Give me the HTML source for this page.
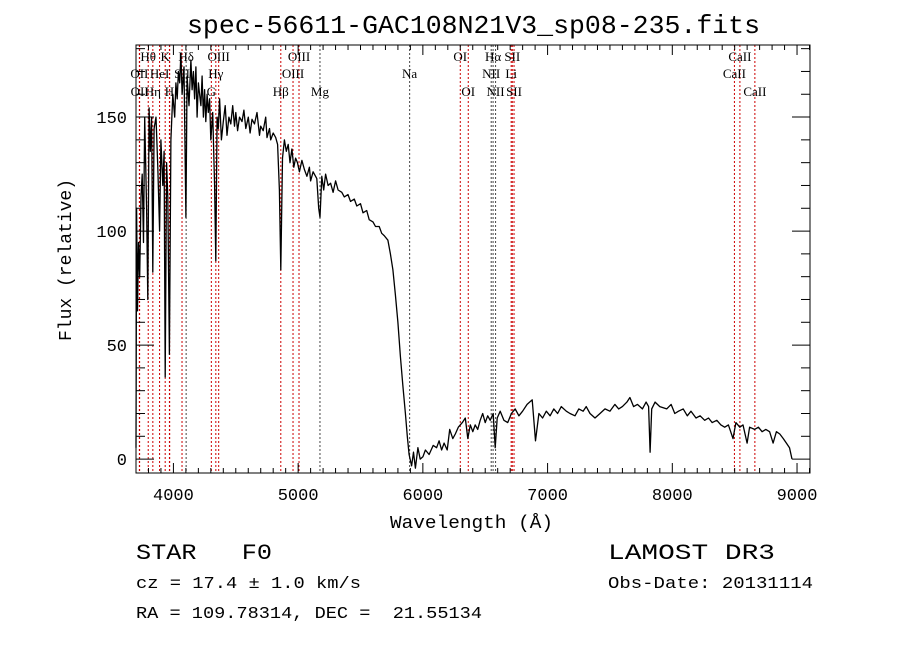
<!DOCTYPE html>
<html><head><meta charset="utf-8"><style>
body{margin:0;background:#fff;}
svg{display:block;font-family:"Liberation Mono",monospace;}
.lab{font-family:"Liberation Serif",serif;font-size:13px;}
</style></head><body>
<svg id="chart" width="900" height="649" viewBox="0 0 900 649" xmlns="http://www.w3.org/2000/svg">
<rect width="900" height="649" fill="#fff"/>
<text x="187" y="33" font-size="26" textLength="573" lengthAdjust="spacingAndGlyphs">spec-56611-GAC108N21V3_sp08-235.fits</text>
<g id="lines"></g>
<g id="spec"></g>
<g id="axes"></g>
<text x="390" y="528" font-size="18" textLength="163" lengthAdjust="spacingAndGlyphs">Wavelength (Å)</text>
<text transform="translate(71,260) rotate(-90)" font-size="18" text-anchor="middle">Flux (relative)</text>
<text x="136" y="559" font-size="22" textLength="136" lengthAdjust="spacingAndGlyphs" xml:space="preserve">STAR   F0</text>
<text x="136" y="588" font-size="17" textLength="225" lengthAdjust="spacingAndGlyphs">cz = 17.4 ± 1.0 km/s</text>
<text x="136" y="618" font-size="17" textLength="346" lengthAdjust="spacingAndGlyphs" xml:space="preserve">RA = 109.78314, DEC =  21.55134</text>
<text x="608" y="559" font-size="22" textLength="167" lengthAdjust="spacingAndGlyphs">LAMOST DR3</text>
<text x="608" y="588" font-size="17" textLength="205" lengthAdjust="spacingAndGlyphs">Obs-Date: 20131114</text>
</svg>
<script>
const wl=[3700,3705,3712,3720,3730,3740,3750,3760,3770,3785,3795,3805,3815,3825,3835,3845,3860,3875,3889,3900,3915,3925,3934,3945,3955,3968,3980,3995,4010,4020,4030,4040,4050,4060,4070,4085,4100,4110,4125,4140,4150,4160,4170,4180,4190,4200,4210,4220,4230,4240,4250,4260,4270,4280,4290,4300,4315,4330,4340,4350,4360,4370,4385,4400,4415,4430,4445,4460,4475,4490,4500,4515,4530,4550,4565,4580,4600,4615,4630,4650,4670,4690,4700,4720,4740,4750,4770,4780,4800,4820,4835,4850,4861,4875,4890,4905,4920,4935,4950,4965,4980,4995,5010,5030,5050,5070,5090,5100,5120,5150,5165,5175,5190,5205,5220,5240,5260,5280,5300,5320,5350,5370,5400,5420,5450,5470,5500,5520,5550,5570,5600,5620,5650,5670,5690,5720,5740,5760,5780,5800,5820,5840,5860,5875,5890,5910,5925,5940,5960,5979,6000,6020,6050,6083,6110,6130,6150,6170,6195,6215,6240,6260,6284,6316,6340,6360,6380,6400,6420,6440,6460,6480,6500,6520,6540,6564,6580,6596,6620,6650,6680,6710,6740,6770,6800,6836,6877,6903,6930,6960,6990,7020,7050,7080,7110,7150,7180,7220,7250,7285,7310,7340,7380,7420,7460,7500,7540,7570,7600,7636,7660,7690,7720,7760,7790,7810,7822,7835,7862,7900,7955,7990,8020,8050,8087,8120,8150,8190,8223,8260,8290,8320,8357,8390,8420,8450,8487,8510,8541,8567,8600,8620,8660,8690,8720,8750,8780,8808,8835,8862,8890,8915,8940,8960,8982,8995,9000];
const flux=[5,110,65,95,80,115,125,95,150,110,70,154,135,150,82,145,150,128,100,140,120,135,36,130,115,46,140,160,150,165,158,170,165,178,160,172,106,168,155,175,162,170,158,172,150,165,160,155,168,150,162,148,160,152,158,140,152,120,87,150,145,158,140,148,155,142,150,147,155,146,152,144,150,148,153,145,150,143,149,147,152,142,146,144,150,141,145,140,143,141,138,118,83,132,140,135,138,130,136,128,132,130,126,131,127,124,128,122,126,123,110,106,124,118,125,120,121,117,122,118,117,115,116,113,114,111,112,108,109,105,104,102,102,99,98,96,90,83,72,60,45,32,20,10,2,-3,3,-4,5,0,1,4,2,6,5,8,4,7,4,13,9,11,14,16,18,9,15,12,15,13,17,20,16,19,17,20,5,18,21,17,16,20,22,19,21,24,26,8,20,18,21,19,22,20,23,21,20,19,22,21,23,20,18,20,22,21,24,22,23,25,27,23,24,22,25,23,3,22,25,23,22,24,20,21,22,19,21,18,19,17,18,16,17,15,14,15,9,16,14,15,7,14,13,14,12,13,12,7,12,11,9,7,5,0];
const xTicks=[4000,5000,6000,7000,8000,9000];
const yTicks=[0,50,100,150];
const lineWl=[3727,3729,3798,3835,3889,3934,3968,3970,4069,4102,4304,4340,4363,4861,4959,5007,5175,5894,6300,6364,6548,6563,6583,6708,6717,6731,8498,8542,8662];
const lineColor=['r','r','r','r','r','r','r','r','r','k','r','r','r','r','r','r','k','k','r','r','k','k','k','r','r','r','r','r','r'];
const labText=['Hθ','K','Hδ','OIII','OIII','OI','Hα','SII','CaII','OII','HeI','SII','Hγ','OIII','Na','NII','Li','CaII','OII','Hη','H','G','Hβ','Mg','OI','NII','SII','CaII'];
const labWl=[3798,3934,4102,4363,5007,6300,6563,6717,8542,3727,3889,4069,4340,4959,5894,6548,6708,8498,3729,3835,3968,4304,4861,5175,6364,6583,6731,8662];
const labRow=[0,0,0,0,0,0,0,0,0,1,1,1,1,1,1,1,1,1,2,2,2,2,2,2,2,2,2,2];
const X0=136,X1=810,Y0=45,Y1=473;
const xmin=3700,xmax=9104,ymin=-6.1,ymax=181.6;
function xs(w){return X0+(w-xmin)/(xmax-xmin)*(X1-X0);}
function ys(f){return Y1-(f-ymin)/(ymax-ymin)*(Y1-Y0);}
const NS='http://www.w3.org/2000/svg';
function mk(t,a,p){const e=document.createElementNS(NS,t);for(const k in a)e.setAttribute(k,a[k]);p.appendChild(e);return e;}
const gL=document.getElementById('lines');
lineWl.forEach((w,i)=>{
 const l=mk('line',{x1:xs(w),x2:xs(w),y1:Y0,y2:Y1,stroke:lineColor[i]=='r'?'#c00':'#444','stroke-width':1,'stroke-dasharray':'2,2'},gL);
 
 
});
const rowY=[61,78,96];
labText.forEach((t,i)=>{
 const tx=mk('text',{x:xs(labWl[i]),y:rowY[labRow[i]],'text-anchor':'middle',class:'lab'},gL);
 tx.textContent=t;
 
 
});
const gS=document.getElementById('spec');
let d='';wl.forEach((w,i)=>{d+=(i?'L':'M')+xs(w).toFixed(1)+','+ys(flux[i]).toFixed(1);});
const p=mk('path',{d:d,fill:'none',stroke:'#000','stroke-width':1.3,'stroke-linejoin':'round'},gS);


const gA=document.getElementById('axes');
const fr=mk('rect',{x:X0,y:Y0,width:X1-X0,height:Y1-Y0,fill:'none',stroke:'#000','stroke-width':1},gA);


for(let w=3800;w<=9100;w+=100){const maj=w%1000==0;const L=maj?10:5;
 mk('line',{x1:xs(w),x2:xs(w),y1:Y1,y2:Y1-L,stroke:'#000'},gA);
 mk('line',{x1:xs(w),x2:xs(w),y1:Y0,y2:Y0+L,stroke:'#000'},gA);}
for(let f=0;f<=180;f+=10){const maj=f%50==0;const L=maj?18:9;
 mk('line',{x1:X0,x2:X0+L,y1:ys(f),y2:ys(f),stroke:'#000'},gA);
 mk('line',{x1:X1,x2:X1-L,y1:ys(f),y2:ys(f),stroke:'#000'},gA);}
xTicks.forEach(v=>{const t=mk('text',{x:xs(v),y:500,'font-size':17,'text-anchor':'middle'},gA);t.textContent=v;
 
 });
yTicks.forEach(v=>{const t=mk('text',{x:127,y:ys(v)+6,'font-size':17,'text-anchor':'end'},gA);t.textContent=v;
 
 });
</script>
</body></html>
